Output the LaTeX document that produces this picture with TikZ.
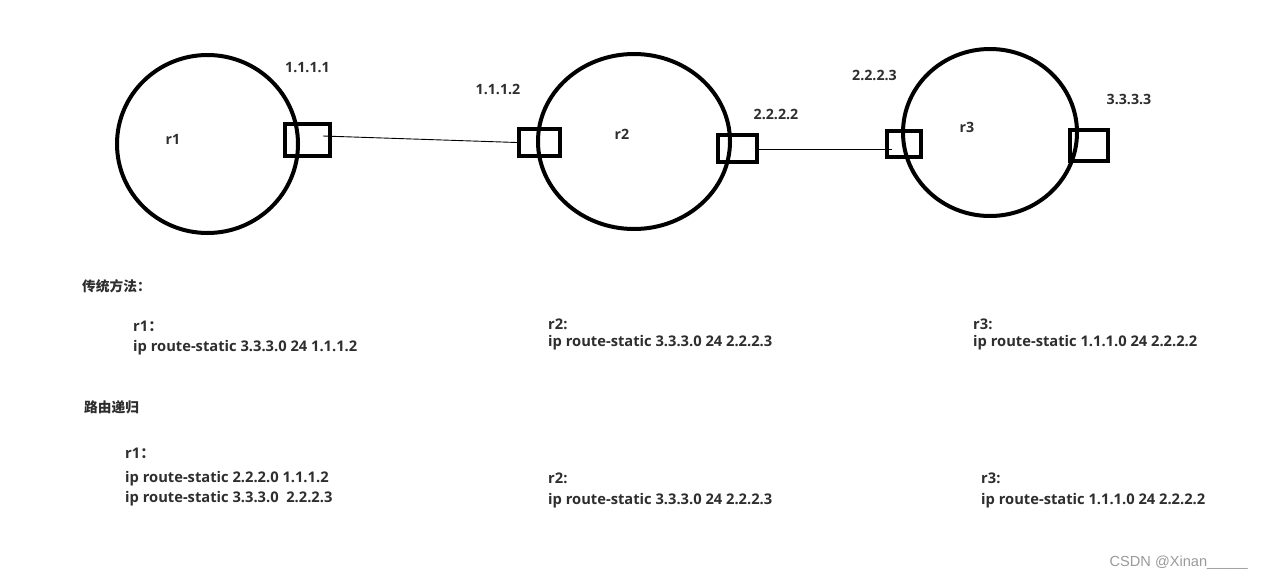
\documentclass[tikz,border=0pt]{standalone}
\usepackage{fontspec}
\setmainfont{Open Sans}
\newfontfamily\cjk{Noto Sans CJK SC}
\setsansfont{Liberation Sans}
\usepackage{tikz}
\usetikzlibrary{positioning,shapes.geometric}
\definecolor{ink}{HTML}{2E2E2E}
\definecolor{mark}{HTML}{9A9A9A}
\tikzset{
  router/.style={ellipse, draw=black, line width=4pt, inner sep=0pt},
  port/.style={rectangle, draw=black, line width=4pt, inner sep=0pt},
  link/.style={draw=black, line width=0.9pt},
  addr/.style={font=\fontsize{14.2}{16}\selectfont\bfseries, text=ink, inner sep=0pt},
  cfg/.style={font=\fontsize{14.7}{17}\selectfont\bfseries, text=ink, anchor=west, inner sep=0pt},
  head/.style={font=\cjk\fontsize{13.7}{16}\selectfont\bfseries, text=ink, anchor=west, inner sep=0pt}
}
\begin{document}
\begin{tikzpicture}[x=1pt,y=-1pt]
  \useasboundingbox[fill=white] (0,0) rectangle (1264,581);

  % routers
  \node[router, minimum width=181pt, minimum height=178pt] (r1) at (207.5,144) {};
  \node[router, minimum width=192pt, minimum height=175pt] (r2) at (634,141.5) {};
  \node[router, minimum width=174pt, minimum height=167pt] (r3) at (990,132.5) {};
  \node[addr] (r1name) at (173,139) {r1};
  \node[addr] (r2name) at (622,134) {r2};
  \node[addr] (r3name) at (967,127) {r3};

  % interfaces
  \node[port, minimum width=45pt, minimum height=32pt] (p1) at (307.5,140) {};
  \node[port, minimum width=41pt, minimum height=27pt] (p2a) at (539.5,142.5) {};
  \node[port, minimum width=39pt, minimum height=27pt] (p2b) at (737.5,148.5) {};
  \node[port, minimum width=34pt, minimum height=26pt] (p3a) at (904,144) {};
  \node[port, minimum width=38pt, minimum height=31pt] (p3b) at (1089,145.5) {};

  \node[addr] (a11) at (307.5,68) {1.1.1.1};
  \node[addr] (a12) at (498,89) {1.1.1.2};
  \node[addr] (a22) at (776,114) {2.2.2.2};
  \node[addr] (a23) at (874.5,75) {2.2.2.3};
  \node[addr] (a33) at (1129,99) {3.3.3.3};

  % links
  \coordinate (l1) at (323,136);
  \coordinate (l2) at (892,149);
  \draw[link] (l1) .. controls (420,139) .. (p2a.west);
  \draw[link] (p2b.east |- 0,149) -- (l2);

  % static routes
  \node[head] (h1) at (82,286) {传统方法：};
  \node[cfg] (c1n) at (133,326) {r1{\cjk\bfseries ：}};
  \node[cfg] (c1) at (133,348) {ip route-static 3.3.3.0 24 1.1.1.2};
  \node[cfg] (c2n) at (548,324) {r2:};
  \node[cfg] (c2) at (548,343) {ip route-static 3.3.3.0 24 2.2.2.3};
  \node[cfg] (c3n) at (973,324) {r3:};
  \node[cfg] (c3) at (973,343) {ip route-static 1.1.1.0 24 2.2.2.2};

  \node[head] (h2) at (84,407) {路由递归};
  \node[cfg] (d1n) at (125,453) {r1{\cjk\bfseries ：}};
  \node[cfg] (d1a) at (125,479) {ip route-static 2.2.2.0 1.1.1.2};
  \node[cfg] (d1b) at (125,499) {ip route-static 3.3.3.0 \ 2.2.2.3};
  \node[cfg] (d2n) at (548,478) {r2:};
  \node[cfg] (d2) at (548,501) {ip route-static 3.3.3.0 24 2.2.2.3};
  \node[cfg] (d3n) at (981,478) {r3:};
  \node[cfg] (d3) at (981,501) {ip route-static 1.1.1.0 24 2.2.2.2};

  \node[font=\sffamily\fontsize{14.6}{17}\selectfont, text=mark, anchor=east, inner sep=0pt] (wm) at (1248,563) {CSDN @Xinan\_\_\_\_\_};
\end{tikzpicture}
\end{document}
